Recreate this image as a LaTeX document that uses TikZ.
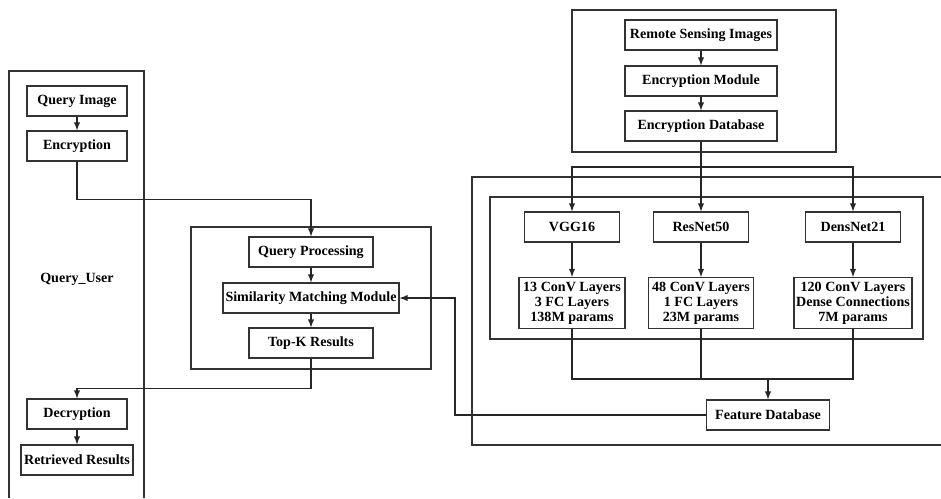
\documentclass[tikz,border=0pt]{standalone}
\usepackage{fontspec}
\setmainfont{Liberation Serif}
\usepackage{tikz}
\tikzstyle{blk} = [draw=black!80, line width=0.6pt, rectangle, inner sep=0pt, minimum height=0.6cm, font={\fontsize{8}{9.6}\selectfont\bfseries}]
\tikzstyle{tall} = [blk, minimum height=1.02cm, align=center, font={\fontsize{8}{8.6}\selectfont\bfseries}]
\tikzstyle{frame} = [draw=black!80, line width=0.6pt]
\tikzstyle{link} = [draw=black!85, line width=0.6pt]

\begin{document}
\begin{tikzpicture}[x=0.02cm, y=-0.02cm, >=latex]
    \useasboundingbox (0,0) rectangle (941,498);
    % frames
    \draw[frame] (9,498) -- (9,71) -- (144,71) -- (144,498);
    \draw[frame] (191,227) rectangle (431,369);
    \draw[frame] (572,10) rectangle (836,152);
    \draw[frame] (941,177) -- (472,177) -- (472,445) -- (941,445);
    \draw[frame] (490,197) rectangle (923,339);
    % user side
    \node[blk, minimum width=2cm](qimg) at (77,101){Query Image};
    \node[blk, minimum width=2cm](enc) at (77,146){Encryption};
    \node[font={\fontsize{8}{9.6}\selectfont\bfseries}](user) at (77,279){Query\_User};
    \node[blk, minimum width=2cm](dec) at (77,414){Decryption};
    \node[blk, minimum width=2.24cm](ret) at (77,460){Retrieved Results};
    % query side
    \node[blk, minimum width=2.48cm](qp) at (311,252){Query Processing};
    \node[blk, minimum width=3.52cm](sim) at (311,298){Similarity Matching Module};
    \node[blk, minimum width=2.48cm](topk) at (311,343){Top-K Results};
    % database side
    \node[blk, minimum width=3.04cm](rsi) at (701,35){Remote Sensing Images};
    \node[blk, minimum width=3.04cm](encm) at (701,81){Encryption Module};
    \node[blk, minimum width=3.04cm](edb) at (701,126){Encryption Database};
    \node[blk, minimum width=1.9cm](vgg) at (572,227){VGG16};
    \node[blk, minimum width=1.9cm](res) at (701,227){ResNet50};
    \node[blk, minimum width=1.9cm](dens) at (853,227){DensNet21};
    \node[tall, minimum width=2.12cm](vggd) at (572,303){13 ConV Layers\\3 FC Layers\\138M params};
    \node[tall, minimum width=2.1cm](resd) at (701,303){48 ConV Layers\\1 FC Layers\\23M params};
    \node[tall, minimum width=2.36cm](densd) at (853,303){120 ConV Layers\\Dense Connections\\7M params};
    \node[blk, minimum width=2.46cm](fdb) at (768,415){Feature Database};
    \coordinate (split) at (701,167);
    \coordinate (merge) at (768,379);
    \coordinate (turn) at (455,298);
    % connectors
    \draw[link,->](qimg)--(enc);
    \draw[link,->](enc.south)--++(0,38)-|(qp.north);
    \draw[link,->](qp)--(sim);
    \draw[link,->](sim)--(topk);
    \draw[link,->](topk.south)--++(0,30)-|(dec.north);
    \draw[link,->](dec)--(ret);
    \draw[link,->](rsi)--(encm);
    \draw[link,->](encm)--(edb);
    \draw[link](edb)--(split);
    \draw[link,->](split)-|(vgg.north);
    \draw[link,->](split)--(res);
    \draw[link,->](split)-|(dens.north);
    \draw[link,->](vgg)--(vggd);
    \draw[link,->](res)--(resd);
    \draw[link,->](dens)--(densd);
    \draw[link](vggd.south)|-(merge);
    \draw[link](densd.south)|-(merge);
    \draw[link](resd.south)--(resd.south|-merge);
    \draw[link,->](merge)--(fdb);
    \draw[link,->](fdb.west)-|(turn)--(sim.east);
  \end{tikzpicture}
\end{document}
